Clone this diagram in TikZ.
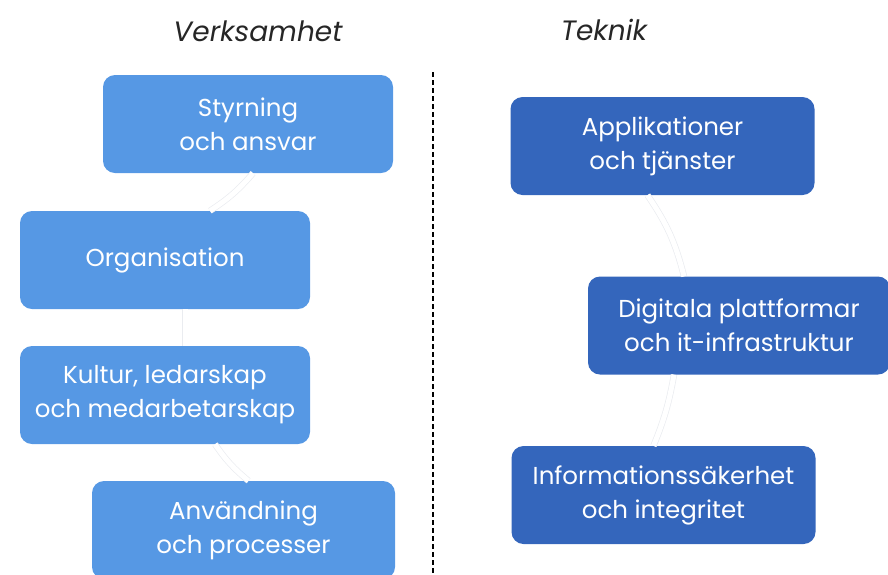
\documentclass[tikz,border=0pt]{standalone}
\usepackage{fontspec}
\setmainfont{Poppins}
\usetikzlibrary{positioning}

\definecolor{verkblau}{RGB}{86,152,228}
\definecolor{teknblau}{RGB}{52,102,188}
\definecolor{bogen}{RGB}{234,236,240}

\begin{document}
\begin{tikzpicture}[x=1pt,y=-1pt,
  ruta/.style={rectangle,rounded corners=12pt,minimum height=98pt,
    text=white,align=center,font=\fontsize{24.5}{34}\selectfont,inner sep=0pt},
  verk/.style={ruta,fill=verkblau,minimum width=290pt},
  tekn/.style={ruta,fill=teknblau,minimum width=304pt},
  rubrik/.style={font=\fontsize{28}{32}\selectfont\itshape,text=black!85},
  bage/.style={draw=bogen,double=white,double distance=5pt,line width=0.7pt}]

\useasboundingbox (0,0) rectangle (888,574);

% Rubriker
\node[rubrik] (verksamhet) at (258,31) {Verksamhet};
\node[rubrik] (teknik) at (604,30) {Teknik};

% Skiljelinje
\coordinate (linjetopp) at (433,72);
\coordinate (linjebotten) at (433,574);
\draw[line width=1.5pt,dash pattern=on 5pt off 3pt] (linjetopp)--(linjebotten);

% Verksamhet
\node[verk] (styrning) at (248,124) {Styrning\\och ansvar};
\node[verk] (organisation) at (165,260) {Organisation};
\node[verk] (kultur) at (165,395) {Kultur, ledarskap\\och medarbetarskap};
\node[verk,minimum width=303pt] (anvandning) at (243.5,530) {Användning\\och processer};

% Teknik
\node[tekn] (applikationer) at (662.5,146) {Applikationer\\och tjänster};
\node[tekn,minimum width=302pt] (digitala) at (739,325.5) {Digitala plattformar\\och it-infrastruktur};
\node[tekn] (informationssakerhet) at (663.5,495) {Informationssäkerhet\\och integritet};

% Bågar mellan rutorna
\draw[bage] ([xshift=5pt]styrning.south) to[bend left=8] ([xshift=45pt]organisation.north);
\draw[bage] ([xshift=20pt]organisation.south) to ([xshift=20pt]kultur.north);
\draw[bage] ([xshift=50pt]kultur.south) to[bend right=8] ([xshift=5pt]anvandning.north);
\draw[bage] ([xshift=-15pt]applikationer.south) to[bend left=10] ([xshift=-55pt]digitala.north);
\draw[bage] ([xshift=-65pt]digitala.south) to[bend left=6] ([xshift=-10pt]informationssakerhet.north);

\end{tikzpicture}
\end{document}
